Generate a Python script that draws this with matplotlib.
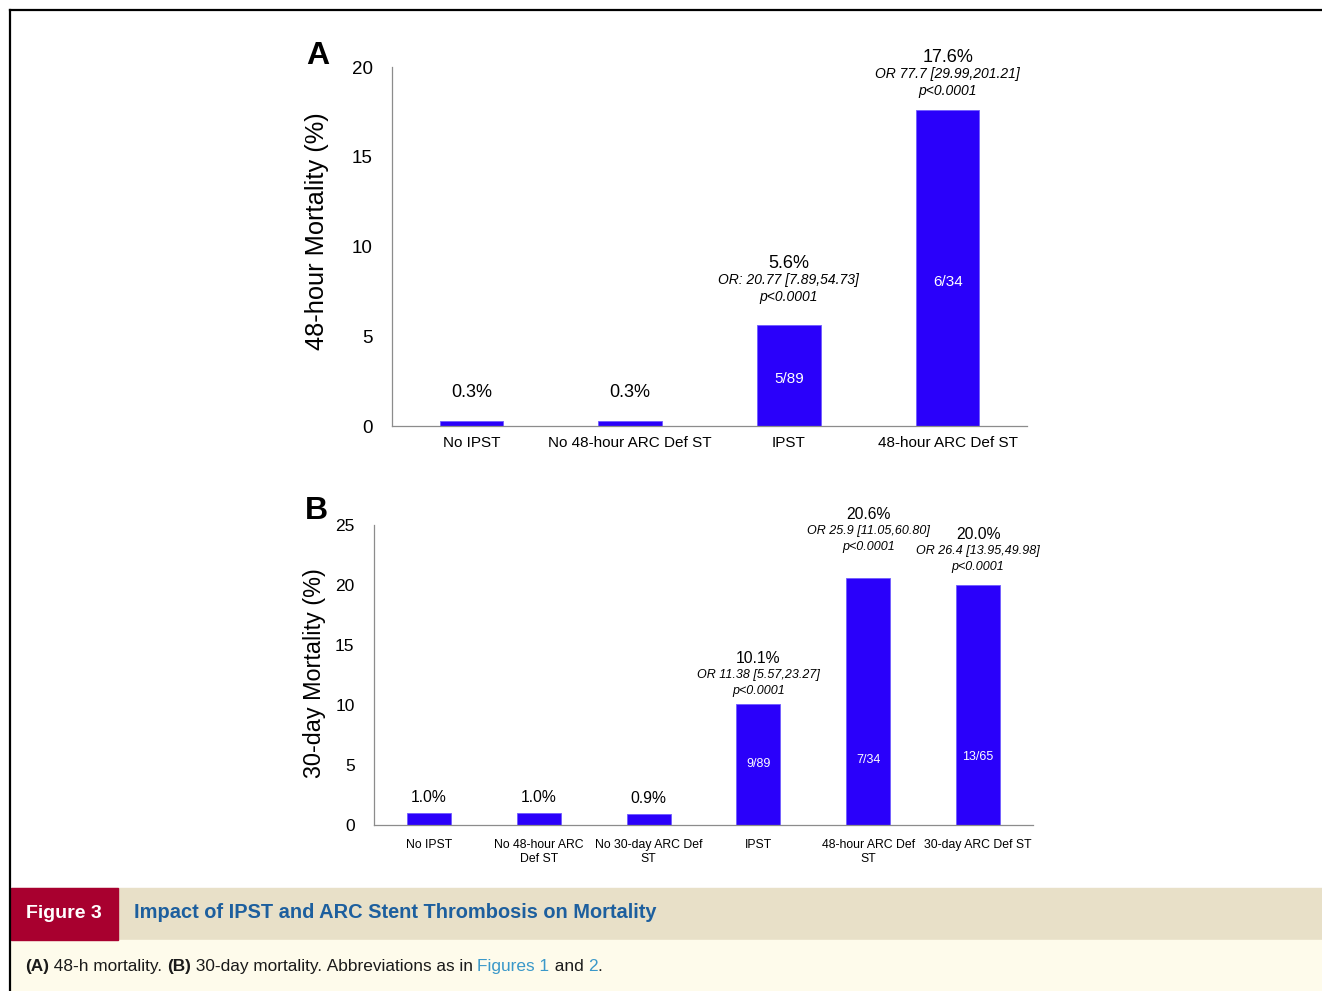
import matplotlib
matplotlib.use("Agg")

import matplotlib.pyplot as plt
from matplotlib.patches import Rectangle

# Panel A: 48-hour mortality
cats_a = ["No IPST", "No 48-hour ARC Def ST", "IPST", "48-hour ARC Def ST"]
mort_a = [0.3, 0.3, 5.6, 17.6]
or_a = [None, None, "OR: 20.77 [7.89,54.73]", "OR 77.7 [29.99,201.21]"]
counts_a = [None, None, "5/89", "6/34"]

# Panel B: 30-day mortality
cats_b = ["No IPST", "No 48-hour ARC\nDef ST", "No 30-day ARC Def\nST",
          "IPST", "48-hour ARC Def\nST", "30-day ARC Def ST"]
mort_b = [1.0, 1.0, 0.9, 10.1, 20.6, 20.0]
or_b = [None, None, None, "OR 11.38 [5.57,23.27]", "OR 25.9 [11.05,60.80]",
        "OR 26.4 [13.95,49.98]"]
counts_b = [None, None, None, "9/89", "7/34", "13/65"]

W, H = 1322, 991
BAR = "#2a00fa"
SPINE = "#8c8c8c"
FONT = ["Liberation Sans", "DejaVu Sans"]

plt.rcParams["font.family"] = FONT

fig = plt.figure(figsize=(W / 100, H / 100), dpi=100)


def px_axes(left, top, right, bottom):
    return fig.add_axes([left / W, 1 - bottom / H, (right - left) / W, (bottom - top) / H])


def draw_panel(ax, cats, vals, ors, counts, ymax, step, pct_size, or_size,
               cnt_size, tick_size, ytick_size, count_y, pads, xpad, gap, pct_gap):
    x = list(range(len(cats)))
    ax.bar(x, vals, width=0.4, color=BAR, edgecolor="#6f5cff", linewidth=0.6)
    ax.set_xlim(-0.5, len(cats) - 0.5)
    ax.set_ylim(0, ymax)
    ax.set_yticks(range(0, ymax + 1, step))
    ax.set_xticks(x)
    ax.set_xticklabels(cats, fontsize=tick_size)
    ax.tick_params(axis="x", length=0, pad=xpad)
    ax.tick_params(axis="y", length=0, pad=14, labelsize=ytick_size)
    for s in ("top", "right"):
        ax.spines[s].set_visible(False)
    for s in ("left", "bottom"):
        ax.spines[s].set_color(SPINE)
        ax.spines[s].set_linewidth(0.9)

    for i, v in enumerate(vals):
        pad = pads[i]
        if ors[i] is None:
            ax.annotate(f"{v:.1f}%", (i, v), xytext=(0, pad), textcoords="offset pixels",
                        ha="center", va="bottom", fontsize=pct_size)
        else:
            ax.annotate("p<0.0001", (i, v), xytext=(0, pad), textcoords="offset pixels",
                        ha="center", va="bottom", fontsize=or_size, style="italic")
            ax.annotate(ors[i], (i, v), xytext=(0, pad + gap),
                        textcoords="offset pixels", ha="center", va="bottom",
                        fontsize=or_size, style="italic")
            ax.annotate(f"{v:.1f}%", (i, v), xytext=(0, pad + gap + pct_gap),
                        textcoords="offset pixels", ha="center", va="bottom",
                        fontsize=pct_size)
        if counts[i] is not None:
            ax.text(i, count_y[i], counts[i], ha="center", va="center",
                    fontsize=cnt_size, color="white")


ax_a = px_axes(392, 67, 1027, 426)
draw_panel(ax_a, cats_a, mort_a, or_a, counts_a, 20, 5, 13, 10, 11, 11, 13.5,
           [None, None, 2.6, 8.0], [20, 20, 21, 12], 7, 17, 15)

ax_b = px_axes(374, 525, 1033, 825)
draw_panel(ax_b, cats_b, mort_b, or_b, counts_b, 25, 5, 11.3, 9, 9, 8.8, 12.5,
           [None, None, None, 5.1, 5.4, 5.7], [8, 8, 8, 7, 25, 12], 10, 16, 15)

# axis titles and panel letters
fig.text(317 / W, 1 - 231 / H, "48-hour Mortality (%)", rotation=90,
         ha="center", va="center", fontsize=18.3)
fig.text(315 / W, 1 - 673 / H, "30-day Mortality (%)", rotation=90,
         ha="center", va="center", fontsize=16.8)
fig.text(318 / W, 1 - 56 / H, "A", ha="center", va="center", fontsize=23,
         fontweight="bold")
fig.text(316 / W, 1 - 511 / H, "B", ha="center", va="center", fontsize=23,
         fontweight="bold")

# page frame
fig.add_artist(plt.Line2D([10 / W, 10 / W], [0, 1 - 10 / H], color="black",
                          linewidth=1.6, transform=fig.transFigure))
fig.add_artist(plt.Line2D([10 / W, 1], [1 - 10 / H, 1 - 10 / H], color="black",
                          linewidth=1.6, transform=fig.transFigure))

# caption band
fig.add_artist(Rectangle((11 / W, 1 - 940 / H), 1 - 11 / W, 52 / H,
                         transform=fig.transFigure, color="#e8e0c8", zorder=0))
fig.add_artist(Rectangle((11 / W, 0), 1 - 11 / W, 1 - 940 / H,
                         transform=fig.transFigure, color="#fefbeb", zorder=0))
fig.add_artist(Rectangle((11 / W, 1 - 940 / H), 107 / W, 52 / H,
                         transform=fig.transFigure, color="#a8002f", zorder=1))
fig.text(64 / W, 1 - 913 / H, "Figure 3", ha="center", va="center", color="white",
         fontsize=14, fontweight="bold")
fig.text(134 / W, 1 - 913 / H, "Impact of IPST and ARC Stent Thrombosis on Mortality",
         ha="left", va="center", color="#1d5f9e", fontsize=14.4, fontweight="bold")

# caption line drawn as runs of differently styled text
runs = [("(A)", "bold", "#1a1a1a"), (" 48-h mortality. ", "normal", "#1a1a1a"),
        ("(B)", "bold", "#1a1a1a"),
        (" 30-day mortality. Abbreviations as in ", "normal", "#1a1a1a"),
        ("Figures 1", "normal", "#3a98c9"), (" and ", "normal", "#1a1a1a"),
        ("2", "normal", "#3a98c9"), (".", "normal", "#1a1a1a")]
renderer = fig.canvas.get_renderer()
xpos = 25
for txt, weight, col in runs:
    t = fig.text(xpos / W, 1 - 971 / H, txt.replace(" ", "\u00a0"), ha="left",
                 va="baseline", color=col, fontsize=12.4, fontweight=weight)
    xpos = t.get_window_extent(renderer).x1

fig.savefig("out.png", dpi=100)
